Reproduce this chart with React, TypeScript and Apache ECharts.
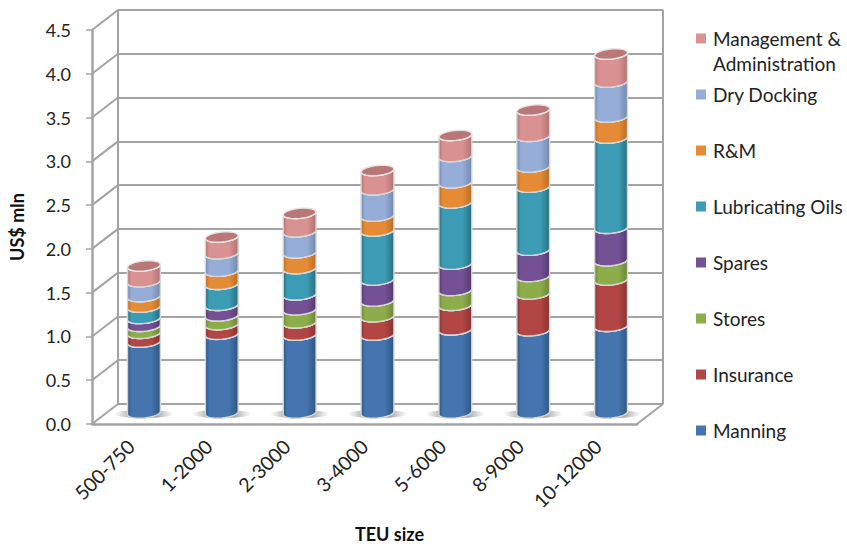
import React, { useEffect, useRef } from "react";
import * as echarts from "echarts";

// Ship size bands on the category axis
const categories = ["500-750", "1-2000", "2-3000", "3-4000", "5-6000", "8-9000", "10-12000"];
const yTicks = [0, 0.5, 1, 1.5, 2, 2.5, 3, 3.5, 4, 4.5];

// Annual operating cost components, US$ mln
const manning = [0.81, 0.9, 0.89, 0.89, 0.95, 0.94, 0.99];
const insurance = [0.1, 0.11, 0.14, 0.21, 0.28, 0.42, 0.53];
const stores = [0.08, 0.1, 0.15, 0.18, 0.17, 0.2, 0.22];
const spares = [0.09, 0.12, 0.17, 0.24, 0.3, 0.3, 0.37];
const lubricatingOils = [0.13, 0.24, 0.3, 0.56, 0.7, 0.72, 1.03];
const repairs = [0.12, 0.15, 0.18, 0.17, 0.23, 0.23, 0.24];
const dryDocking = [0.17, 0.2, 0.24, 0.3, 0.3, 0.35, 0.4];
const management = [0.18, 0.19, 0.21, 0.22, 0.24, 0.3, 0.32];

const stackOrder = [
  { name: "Manning", values: manning, color: "#4475AE", dark: "#2F5682" },
  { name: "Insurance", values: insurance, color: "#B24644", dark: "#8A3230" },
  { name: "Stores", values: stores, color: "#8DAD4B", dark: "#6B8736" },
  { name: "Spares", values: spares, color: "#745194", dark: "#543A70" },
  { name: "Lubricating Oils", values: lubricatingOils, color: "#3C9CB6", dark: "#27707F" },
  { name: "R&M", values: repairs, color: "#E58B36", dark: "#B86D26" },
  { name: "Dry Docking", values: dryDocking, color: "#96ADD7", dark: "#7288AE" },
  { name: "Management & Administration", values: management, color: "#D99291", dark: "#B27372" },
];

// Depth of the 3D box and where the columns stand inside it
const DEPTH_X = 26;
const DEPTH_Y = 20;
const COLUMN_DX = 13;
const COLUMN_DY = 11;
const RADIUS = 16.5;
const RADIUS_Y = 5;
const TILT_RAD = -0.1;
const ARC_STEPS = 16;
const WALL = "#A3A3A3";

// Point on a slightly tilted ellipse; t runs 0 (right) through PI/2 (front) to PI (left)
const ellipsePoint = (cx: number, cy: number, t: number) => {
  const ex = RADIUS * Math.cos(t);
  const ey = RADIUS_Y * Math.sin(t);
  return [
    cx + ex * Math.cos(TILT_RAD) - ey * Math.sin(TILT_RAD),
    cy + ex * Math.sin(TILT_RAD) + ey * Math.cos(TILT_RAD),
  ];
};

// Arc from t0 to t1 sampled into a polyline
const ellipseArc = (cx: number, cy: number, t0: number, t1: number) => {
  const pts: number[][] = [];
  for (let i = 0; i <= ARC_STEPS; i++) {
    pts.push(ellipsePoint(cx, cy, t0 + ((t1 - t0) * i) / ARC_STEPS));
  }
  return pts;
};

function segmentItem(isTop: boolean, color: string, dark: string) {
  return (_params: any, api: any) => {
    const cat = api.value(0);
    const lo = api.coord([cat, api.value(1)]);
    const hi = api.coord([cat, api.value(2)]);
    const x = lo[0] + COLUMN_DX;
    const yLo = lo[1] - COLUMN_DY;
    const yHi = hi[1] - COLUMN_DY;
    const fill = new echarts.graphic.LinearGradient(0, 0, 1, 0, [
      { offset: 0, color: dark },
      { offset: 0.12, color },
      { offset: 0.72, color },
      { offset: 1, color: dark },
    ]);
    const topFront = ellipseArc(x, yHi, Math.PI, 0);
    const bottomFront = ellipseArc(x, yLo, 0, Math.PI);
    const children: any[] = [
      {
        type: "polygon",
        shape: { points: [...topFront, ...bottomFront] },
        style: { fill, stroke: "#D6D6D6", lineWidth: 1.4 },
      },
      {
        type: "polyline",
        shape: { points: topFront },
        style: { fill: "none", stroke: "#F2F2F2", lineWidth: 1.3 },
      },
    ];
    if (isTop) {
      children.push({
        type: "polygon",
        shape: { points: [...topFront, ...ellipseArc(x, yHi, 0, -Math.PI)] },
        style: { fill: "#B97877", stroke: "#E6E6E6", lineWidth: 1.4 },
      });
    }
    return { type: "group", children };
  };
}

// Soft contact shadow under each column
function shadowItem(_params: any, api: any) {
  const p = api.coord([api.value(0), 0]);
  const cx = p[0] + COLUMN_DX;
  return {
    type: "ellipse",
    shape: { cx, cy: p[1] - COLUMN_DY + 1, rx: 30, ry: 4 },
    style: {
      fill: new echarts.graphic.LinearGradient(0, 0, 1, 0, [
        { offset: 0, color: "rgba(120,120,120,0)" },
        { offset: 0.3, color: "rgba(90,90,90,0.55)" },
        { offset: 0.7, color: "rgba(90,90,90,0.55)" },
        { offset: 1, color: "rgba(120,120,120,0)" },
      ]),
    },
  };
}

// Diagonals joining the front axis ticks to the back wall, plus the floor's right edge
function depthItem(params: any, api: any) {
  const y = api.coord([0, api.value(1)])[1];
  const left = params.coordSys.x;
  const lines = [[left, y]];
  if (api.value(1) === 0) lines.push([left + params.coordSys.width, y]);
  return {
    type: "group",
    children: lines.map(([x0, y0]) => ({
      type: "line",
      shape: { x1: x0, y1: y0, x2: x0 + DEPTH_X, y2: y0 - DEPTH_Y },
      style: { stroke: WALL, lineWidth: 2 },
    })),
  };
}

const legendLabels: Record<string, string> = {
  "Management & Administration": "\nManagement &\nAdministration",
};

export default function App() {
  const ref = useRef<HTMLDivElement>(null);

  useEffect(() => {
    document.body.style.margin = "0";
    const chart = echarts.init(ref.current!, undefined, { renderer: "svg" });
    const running = categories.map(() => 0);
    const stackSeries = stackOrder.map((s, idx) => {
      const data = s.values.map((v, i) => {
        const lo = running[i];
        running[i] = lo + v;
        return [i, lo, running[i]];
      });
      return {
        type: "custom",
        name: s.name,
        xAxisIndex: 0,
        yAxisIndex: 0,
        z: 5,
        clip: false,
        itemStyle: { color: s.color },
        encode: { x: 0, y: [1, 2] },
        renderItem: segmentItem(idx === stackOrder.length - 1, s.color, s.dark),
        data,
      };
    });

    chart.setOption({
      animation: false,
      backgroundColor: "#fff",
      textStyle: { fontFamily: "Lato" },
      legend: {
        orient: "vertical",
        left: 696,
        top: 1,
        padding: 0,
        itemWidth: 10,
        itemHeight: 10,
        itemGap: -19,
        icon: "rect",
        selectedMode: false,
        data: [...stackOrder].reverse().map((s) => s.name),
        formatter: (name: string) => legendLabels[name] ?? `\n${name}\n `,
        textStyle: {
          fontFamily: "Lato",
          fontSize: 19,
          lineHeight: 25,
          color: "#222",
          padding: [0, 0, 0, 2],
        },
      },
      grid: [
        { left: 92, top: 30, width: 545, height: 394, outerBoundsMode: "none" },
        { left: 92 + DEPTH_X, top: 30 - DEPTH_Y, width: 545, height: 394, outerBoundsMode: "none" },
      ],
      xAxis: [
        {
          type: "category",
          gridIndex: 0,
          data: categories,
          name: "TEU size",
          nameLocation: "middle",
          nameGap: 101,
          nameTextStyle: {
            fontFamily: "Lato",
            fontWeight: "bold",
            fontSize: 18,
            color: "#111",
            padding: [0, 0, 0, 50],
          },
          axisLine: { lineStyle: { color: WALL, width: 2.5 } },
          axisTick: { length: 6, lineStyle: { color: WALL, width: 1.5 } },
          axisLabel: { rotate: 45, margin: 19, fontSize: 19.5, color: "#222", interval: 0 },
          splitLine: { show: false },
        },
        {
          type: "value",
          gridIndex: 1,
          min: 0,
          max: 1,
          interval: 1,
          axisLabel: { show: false },
          axisLine: { show: false },
          axisTick: { show: false },
          splitLine: { show: true, lineStyle: { color: WALL, width: 2 } },
        },
      ],
      yAxis: [
        {
          type: "value",
          gridIndex: 0,
          min: 0,
          max: 4.5,
          interval: 0.5,
          name: "US$ mln",
          nameLocation: "middle",
          nameGap: 66,
          nameTextStyle: { fontFamily: "Lato", fontWeight: "bold", fontSize: 18, color: "#111" },
          axisLine: { show: true, lineStyle: { color: WALL, width: 2.5 } },
          axisTick: { show: true, length: 6, lineStyle: { color: WALL, width: 1.5 } },
          axisLabel: {
            margin: 21,
            fontSize: 18,
            color: "#222",
            formatter: (v: number) => v.toFixed(1),
          },
          splitLine: { show: false },
        },
        {
          type: "value",
          gridIndex: 1,
          min: 0,
          max: 4.5,
          interval: 0.5,
          axisLabel: { show: false },
          axisLine: { show: false },
          axisTick: { show: false },
          splitLine: { show: true, lineStyle: { color: WALL, width: 2 } },
        },
      ],
      series: [
        {
          type: "custom",
          name: "box",
          xAxisIndex: 0,
          yAxisIndex: 0,
          z: 1,
          clip: false,
          silent: true,
          renderItem: depthItem,
          encode: { x: 0, y: 1 },
          data: yTicks.map((v) => [0, v]),
        },
        {
          type: "custom",
          name: "shadow",
          xAxisIndex: 0,
          yAxisIndex: 0,
          z: 3,
          clip: false,
          silent: true,
          renderItem: shadowItem,
          encode: { x: 0, y: 1 },
          data: categories.map((_, i) => [i, 0]),
        },
        ...stackSeries,
      ],
    });
    return () => chart.dispose();
  }, []);

  return <div ref={ref} style={{ width: 847, height: 544 }} />;
}
